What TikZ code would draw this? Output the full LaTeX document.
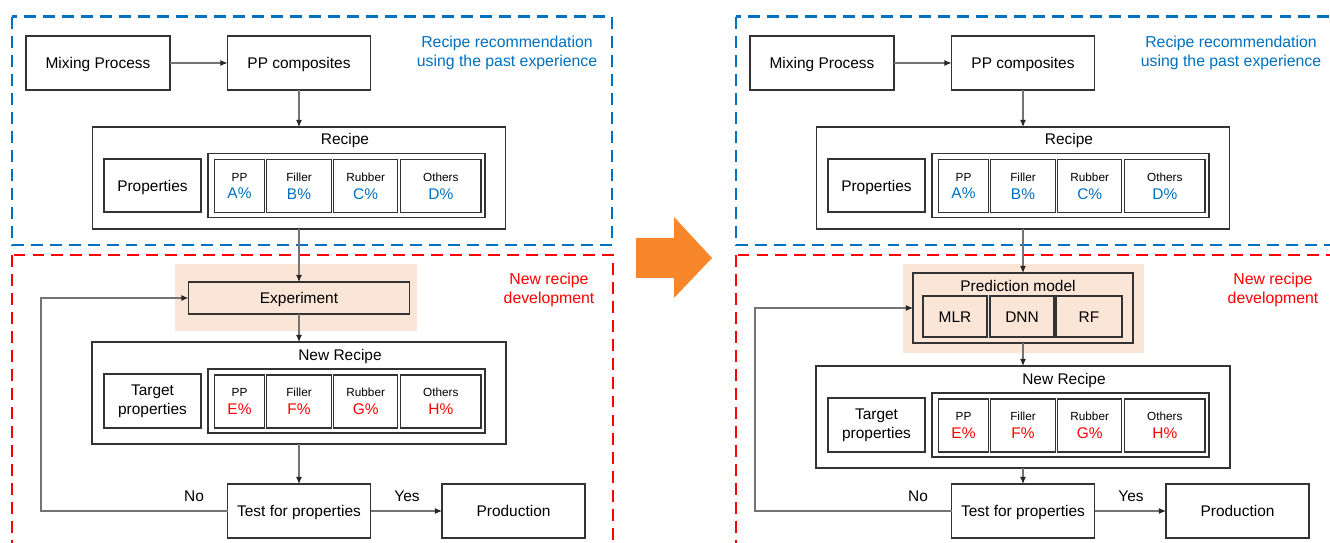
\documentclass[tikz,border=0pt]{standalone}
\usepackage{fontspec}
\setmainfont{Liberation Sans}
\usetikzlibrary{arrows.meta}

\definecolor{recblue}{HTML}{0070C0}
\definecolor{newred}{HTML}{FF0000}
\definecolor{peach}{HTML}{FBE5D6}
\definecolor{bigarrow}{HTML}{F8872B}

\begin{document}
\begin{tikzpicture}[x=0.02cm, y=-0.02cm,
    every node/.style={inner sep=0pt, outer sep=0pt, align=center, font=\fontsize{8.8}{10.8}\selectfont},
    one/.style={text height=6.3pt, text depth=0pt},
    box/.style={draw=black!80, line width=0.65pt},
    wh/.style 2 args={minimum width=#1*0.02cm, minimum height=#2*0.02cm},
    cell/.style={box, wh={#1}{53}, font=\fontsize{8.8}{10.2}\selectfont},
    model/.style={box, one, fill=peach, wh={#1}{41}},
    dashblue/.style={draw=recblue, line width=1.7pt, dash pattern=on 6.8pt off 4pt},
    dashred/.style={draw=newred, line width=1.7pt, dash pattern=on 6.8pt off 4pt},
    arr/.style={draw=black!55, line width=0.6pt, -{Latex[length=4pt, width=3.4pt, color=black!85]}}]
    \useasboundingbox (0,0) rectangle (1330,543);
    \clip (0,0) rectangle (1330,543);

    % both panels share the upper half
    \foreach \ox/\pn/\dy in {0/l/0, 724/r/24} {
        \draw[dashblue] (\ox+12,17) rectangle (\ox+612,245);
        \draw[dashred] (\ox+12,255) rectangle (\ox+613,600);
        \node[text=recblue, font=\fontsize{9}{10.8}\selectfont](past_\pn) at (\ox+507,53) {Recipe recommendation\\using the past experience};
        \node[text=newred, font=\fontsize{9}{10.8}\selectfont](newdev_\pn) at (\ox+549,290) {New recipe\\development};

        \node[box, one, wh={144}{54}](mix_\pn) at (\ox+98,63) {Mixing Process};
        \node[box, one, wh={143}{54}](ppc_\pn) at (\ox+299,63) {PP composites};
        \node[box, wh={413}{102}](recipe_\pn) at (\ox+299,178) {};
        \node[one](recipe_t_\pn) at (\ox+345,139) {Recipe};
        \node[box, one, wh={97}{53}](props_\pn) at (\ox+152.5,185.5) {Properties};
        \node[box, wh={277}{64}](grp_\pn) at (\ox+346.5,185.3) {};

        \node[box, wh={414}{102}](newrec_\pn) at (\ox+299,393+\dy) {};
        \node[one](newrec_t_\pn) at (\ox+340,355+\dy) {New Recipe};
        \node[box, wh={97}{54}](target_\pn) at (\ox+152.5,401+\dy) {Target\\properties};
        \node[box, wh={277}{64}](grp2_\pn) at (\ox+346.5,401+\dy) {};

        \foreach \nm/\cx/\w/\va/\vb in {PP/239.5/49.5/A/E, Filler/299/64.3/B/F, Rubber/365.7/63.6/C/G, Others/440.8/80.4/D/H} {
            \node[cell=\w](c_\pn_\va) at (\ox+\cx,186) {{\fontsize{6.7}{8}\selectfont \nm}\\\textcolor{recblue}{\va\%}};
            \node[cell=\w](c_\pn_\vb) at (\ox+\cx,401.5+\dy) {{\fontsize{6.7}{8}\selectfont \nm}\\\textcolor{newred}{\vb\%}};
        }

        \node[box, one, wh={143}{54}](test_\pn) at (\ox+299,511) {Test for properties};
        \node[box, one, wh={143}{54}](prod_\pn) at (\ox+513.5,511) {Production};
        \node[one](yes_\pn) at (\ox+407,496) {Yes};
        \node[one](no_\pn) at (\ox+194,496) {No};

        \draw[arr] (mix_\pn) -- (ppc_\pn);
        \draw[arr] (ppc_\pn) -- (recipe_\pn);
        \draw[arr] (newrec_\pn) -- (test_\pn);
        \draw[arr] (test_\pn) -- (prod_\pn);
    }

    % left: experiment loop
    \fill[peach] (175,264) rectangle (417,331);
    \node[box, one, fill=peach, wh={221}{32}](exper) at (299,298) {Experiment};
    \coordinate (fb_l) at (41,511);
    \draw[arr] (recipe_l) -- (exper);
    \draw[arr] (exper) -- (newrec_l);
    \draw[arr] (test_l.west) -- (fb_l) |- (exper.west);

    % right: prediction model loop
    \fill[peach] (903,264) rectangle (1144,353);
    \node[box, fill=peach, wh={220}{70}](pred) at (1023,308) {};
    \node[one](pred_t) at (1018,286) {Prediction model};
    \node[model=64](mlr) at (955,316.5) {MLR};
    \node[model=64](dnn) at (1022,316.5) {DNN};
    \node[model=66](rf) at (1089,316.5) {RF};
    \coordinate (fb_r) at (755,511);
    \draw[arr] (recipe_r) -- (pred);
    \draw[arr] (pred) -- (newrec_r);
    \draw[arr] (test_r.west) -- (fb_r) |- (pred.west);

    % big arrow between the panels
    \fill[bigarrow] (636,238) -- (674,238) -- (674,217) -- (712,258) -- (674,298) -- (674,278) -- (636,278) -- cycle;
\end{tikzpicture}
\end{document}
